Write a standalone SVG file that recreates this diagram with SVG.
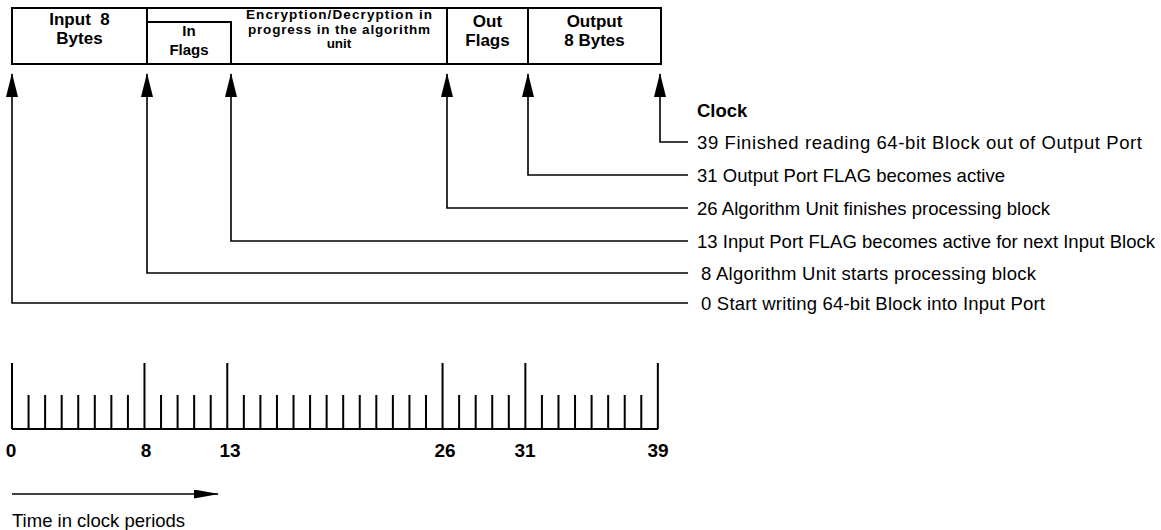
<svg xmlns="http://www.w3.org/2000/svg" width="1161" height="530" viewBox="0 0 1161 530">
<style>
.box{fill:none;stroke:#000;stroke-width:2}
.bl{font-family:"Liberation Sans",Arial,sans-serif;font-weight:bold;font-size:17px;text-anchor:middle;fill:#000}
.bs{font-family:"Liberation Sans",Arial,sans-serif;font-weight:bold;font-size:15px;text-anchor:middle;fill:#000}
.be{font-family:"Liberation Sans",Arial,sans-serif;font-weight:bold;font-size:13.5px;text-anchor:middle;fill:#000}
.lbl{font-family:"Liberation Sans",Arial,sans-serif;font-size:18.5px;fill:#000}
.num{font-family:"Liberation Sans",Arial,sans-serif;font-weight:bold;font-size:19px;text-anchor:middle;fill:#000}
.conn{fill:none;stroke:#000;stroke-width:1.6}
.tick{stroke:#000;stroke-width:2}
</style>
<defs>
<marker id="ah" viewBox="0 0 24 12" refX="23" refY="6" markerWidth="24" markerHeight="12" markerUnits="userSpaceOnUse" orient="auto">
<path d="M0,0 L24,6 L0,12 Z" fill="#000"/>
</marker>
<marker id="ta" viewBox="0 0 25 9" refX="24" refY="4.5" markerWidth="25" markerHeight="9" markerUnits="userSpaceOnUse" orient="auto">
<path d="M0,0 L25,4.5 L0,9 Z" fill="#000"/>
</marker>
</defs>

<g id="input-8-bytes">
<rect class="box" x="12" y="8" width="135" height="56"/>
<text class="bl" x="79.5" y="25" xml:space="preserve">Input  8</text>
<text class="bl" x="79.5" y="44">Bytes</text>
</g>
<g id="in-flags">
<rect class="box" x="147" y="22" width="84" height="42"/>
<text class="bs" x="189" y="36">In</text>
<text class="bs" x="189" y="55">Flags</text>
</g>
<g id="encryption">
<path class="box" d="M147,8 H447 V64 H231"/>
<text class="be" x="339" y="19" textLength="186">Encryption/Decryption in</text>
<text class="be" x="339" y="33.5" textLength="182">progress in the algorithm</text>
<text class="be" x="339" y="48">unit</text>
</g>
<g id="out-flags">
<rect class="box" x="447" y="8" width="81" height="56"/>
<text class="bl" x="487.5" y="27">Out</text>
<text class="bl" x="487.5" y="46">Flags</text>
</g>
<g id="output-8-bytes">
<rect class="box" x="528" y="8" width="133" height="56"/>
<text class="bl" x="594.5" y="27">Output</text>
<text class="bl" x="594.5" y="46">8 Bytes</text>
</g>

<g id="connectors">
<path class="conn" d="M688,142 H660 V74" marker-end="url(#ah)"/>
<path class="conn" d="M688,175 H528 V74" marker-end="url(#ah)"/>
<path class="conn" d="M688,208 H447 V74" marker-end="url(#ah)"/>
<path class="conn" d="M688,241 H231 V74" marker-end="url(#ah)"/>
<path class="conn" d="M688,273 H147 V74" marker-end="url(#ah)"/>
<path class="conn" d="M688,303 H12 V74" marker-end="url(#ah)"/>
</g>

<g id="events">
<text class="lbl" x="697" y="117" font-weight="bold" font-size="17.5">Clock</text>
<text class="lbl" x="697" y="148.5" textLength="445">39 Finished reading 64-bit Block out of Output Port</text>
<text class="lbl" x="697" y="181.5" textLength="308">31 Output Port FLAG becomes active</text>
<text class="lbl" x="697" y="214.5" textLength="353">26 Algorithm Unit finishes processing block</text>
<text class="lbl" x="697" y="247.5" textLength="458">13 Input Port FLAG becomes active for next Input Block</text>
<text class="lbl" x="701" y="279.5" textLength="335">8 Algorithm Unit starts processing block</text>
<text class="lbl" x="701" y="309.5" textLength="344">0 Start writing 64-bit Block into Input Port</text>
</g>

<g id="timeline">
<line class="tick" x1="12" y1="429" x2="658" y2="429"/>
<path class="tick" d="M12,429V363 M28.56,429V395 M45.12,429V395 M61.68,429V395 M78.24,429V395 M94.8,429V395 M111.36,429V395 M127.92,429V395 M144.48,429V363 M161.04,429V395 M177.6,429V395 M194.16,429V395 M210.72,429V395 M227.28,429V363 M243.84,429V395 M260.4,429V395 M276.96,429V395 M293.52,429V395 M310.08,429V395 M326.64,429V395 M343.2,429V395 M359.76,429V395 M376.32,429V395 M392.88,429V395 M409.44,429V395 M426,429V395 M442.56,429V363 M459.12,429V395 M475.68,429V395 M492.24,429V395 M508.8,429V395 M525.36,429V363 M541.92,429V395 M558.48,429V395 M575.04,429V395 M591.6,429V395 M608.16,429V395 M624.72,429V395 M641.28,429V395 M657.84,429V363"/>
<text class="num" x="11" y="457">0</text>
<text class="num" x="146" y="457">8</text>
<text class="num" x="230" y="457">13</text>
<text class="num" x="445" y="457">26</text>
<text class="num" x="525" y="457">31</text>
<text class="num" x="658" y="457">39</text>
<line class="conn" x1="12" y1="494" x2="218" y2="494" marker-end="url(#ta)"/>
<text class="lbl" x="12" y="527" font-size="18">Time in clock periods</text>
</g>
</svg>
